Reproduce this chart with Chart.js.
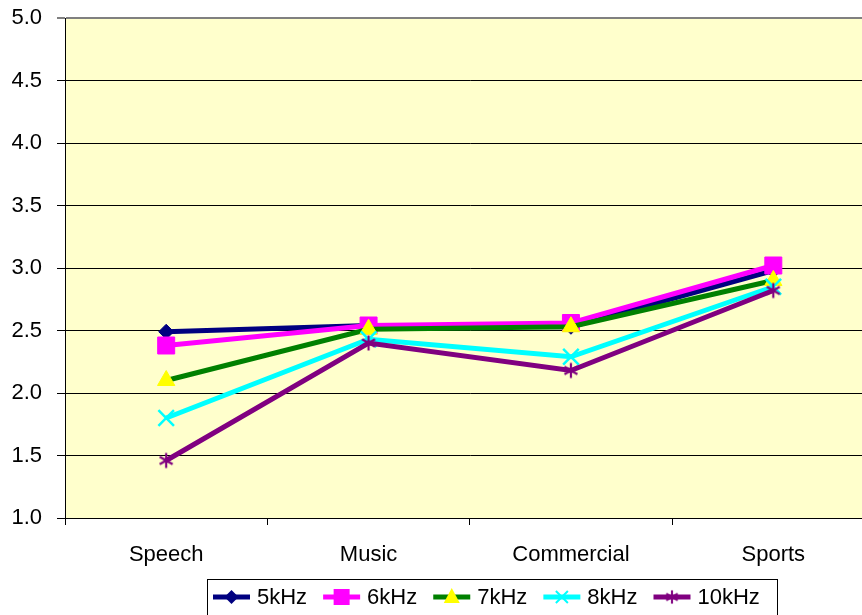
<!DOCTYPE html>
<html>
<head>
<meta charset="utf-8">
<script src="https://cdn.jsdelivr.net/npm/chart.js@4.4.0/dist/chart.umd.min.js"></script>
<style>
  html, body { margin: 0; padding: 0; background: #fff; overflow: hidden; }
  #wrap { width: 862px; height: 615px; overflow: hidden; }
  #wrap canvas { display: block; }
</style>
</head>
<body>
<div id="wrap"><canvas id="lineChart" width="888" height="615"></canvas></div>
<script>
// categories and series values
var categories = ["Speech", "Music", "Commercial", "Sports"];
var seriesNames = ["5kHz", "6kHz", "7kHz", "8kHz", "10kHz"];
var khz5  = [2.49, 2.54, 2.53, 2.98];
var khz6  = [2.38, 2.54, 2.56, 3.02];
var khz7  = [2.10, 2.51, 2.53, 2.90];
var khz8  = [1.80, 2.43, 2.29, 2.85];
var khz10 = [1.46, 2.40, 2.18, 2.82];
var yMin = 1.0, yMax = 5.0, yStep = 0.5;

var FONT = "'Liberation Sans', Arial, sans-serif";

// asterisk marker like the Excel "star"
function makeStar(color, size) {
    var c = document.createElement("canvas");
    c.width = size; c.height = size;
    var g = c.getContext("2d");
    var m = size / 2, r = size / 2 - 1.5;
    g.strokeStyle = color;
    g.lineWidth = 2.2;
    g.beginPath();
    for (var k = 0; k < 3; k++) {
        var a = Math.PI / 2 + k * Math.PI / 3;
        g.moveTo(m - Math.cos(a) * r, m - Math.sin(a) * r);
        g.lineTo(m + Math.cos(a) * r, m + Math.sin(a) * r);
    }
    g.stroke();
    return c;
}
var starPurple = makeStar("#800080", 18);

var styles = [
    { line: "#000080", fill: "#000080", shape: "rectRot",  radius: 7.5, bw: 1 },
    { line: "#FF00FF", fill: "#FF00FF", shape: "rect",     radius: 12,  bw: 1 },
    { line: "#008000", fill: "#FFFF00", shape: "triangle", radius: 10,  bw: 1 },
    { line: "#00FFFF", fill: "#00FFFF", shape: "crossRot", radius: 11,  bw: 2.5 },
    { line: "#800080", fill: "#800080", shape: starPurple, radius: 9,   bw: 1 }
];
var values = [khz5, khz6, khz7, khz8, khz10];

var datasets = values.map(function (v, i) {
    var s = styles[i];
    return {
        label: seriesNames[i],
        data: v,
        borderColor: s.line,
        borderWidth: 5,
        backgroundColor: s.fill,
        pointStyle: s.shape,
        pointRadius: s.radius,
        pointBackgroundColor: s.fill,
        pointBorderColor: s.fill,
        pointBorderWidth: s.bw,
        tension: 0,
        order: values.length - i
    };
});

var plotBackground = {
    id: "plotBackground",
    beforeDraw: function (chart) {
        var c = chart.ctx, a = chart.chartArea;
        c.save();
        c.fillStyle = "#fff";
        c.fillRect(0, 0, chart.width, chart.height);
        c.fillStyle = "#FFFFCC";
        c.fillRect(a.left, a.top, a.right - a.left, a.bottom - a.top);
        c.restore();
    }
};

function legendMarker(c, i, x, y) {
    var s = styles[i];
    c.fillStyle = s.fill;
    c.strokeStyle = s.fill;
    c.beginPath();
    if (i === 0) {
        c.moveTo(x - 7, y); c.lineTo(x, y - 7); c.lineTo(x + 7, y); c.lineTo(x, y + 7);
        c.closePath(); c.fill();
    } else if (i === 1) {
        c.fillRect(x - 8, y - 8, 16, 16);
    } else if (i === 2) {
        c.moveTo(x, y - 9); c.lineTo(x + 8, y + 6); c.lineTo(x - 8, y + 6);
        c.closePath(); c.fill();
    } else if (i === 3) {
        c.lineWidth = 2;
        c.moveTo(x - 6, y - 6); c.lineTo(x + 6, y + 6);
        c.moveTo(x + 6, y - 6); c.lineTo(x - 6, y + 6);
        c.stroke();
    } else {
        c.drawImage(starPurple, x - 8, y - 8, 16, 16);
    }
}

var boxLegend = {
    id: "boxLegend",
    afterDraw: function (chart) {
        var c = chart.ctx;
        var left = 207, top = 579, width = 570, height = 44;
        c.save();
        c.strokeStyle = "#000";
        c.lineWidth = 1;
        c.strokeRect(left + 0.5, top + 0.5, width, height);
        c.font = "22px " + FONT;
        c.textBaseline = "middle";
        c.fillStyle = "#000";
        var x = left + 6, y = top + 18;
        chart.data.datasets.forEach(function (ds, i) {
            c.strokeStyle = ds.borderColor;
            c.lineWidth = 5;
            c.beginPath();
            c.moveTo(x, y); c.lineTo(x + 37, y);
            c.stroke();
            legendMarker(c, i, x + 18.5, y);
            c.fillStyle = "#000";
            c.fillText(ds.label, x + 44, y + 1);
            x += 44 + c.measureText(ds.label).width + 16;
        });
        c.restore();
    }
};

function noPad(s) {
    s.paddingTop = 0; s.paddingBottom = 0;
    s.paddingLeft = 0; s.paddingRight = 0;
}

var ctx = document.getElementById("lineChart");
var myChart = new Chart(ctx, {
    type: "line",
    data: { labels: categories, datasets: datasets },
    plugins: [plotBackground, boxLegend],
    options: {
        responsive: false,
        animation: false,
        devicePixelRatio: 1,
        layout: { padding: { top: 18, right: 7, left: 0, bottom: 0 } },
        plugins: { legend: { display: false }, tooltip: { enabled: false } },
        scales: {
            x: {
                type: "category",
                offset: true,
                grid: { offset: true, drawOnChartArea: false, tickLength: 7, color: "#000" },
                border: { color: "#000", width: 1 },
                ticks: { color: "#000", font: { family: FONT, size: 22 }, padding: 17, maxRotation: 0, autoSkip: false },
                afterFit: function (s) { s.height = 97; noPad(s); }
            },
            y: {
                min: yMin,
                max: yMax,
                grid: {
                    color: function (c) { return c.tick && c.tick.value === yMax ? "#808080" : "#000"; },
                    lineWidth: function (c) { return c.tick && c.tick.value === yMax ? 2 : 1; },
                    tickLength: 8
                },
                border: { color: "#000", width: 1 },
                ticks: {
                    stepSize: yStep,
                    color: "#000",
                    font: { family: FONT, size: 22 },
                    padding: 15,
                    callback: function (v) { return Number(v).toFixed(1); }
                },
                afterFit: function (s) { s.width = 65; noPad(s); }
            }
        }
    }
});
</script>
</body>
</html>
